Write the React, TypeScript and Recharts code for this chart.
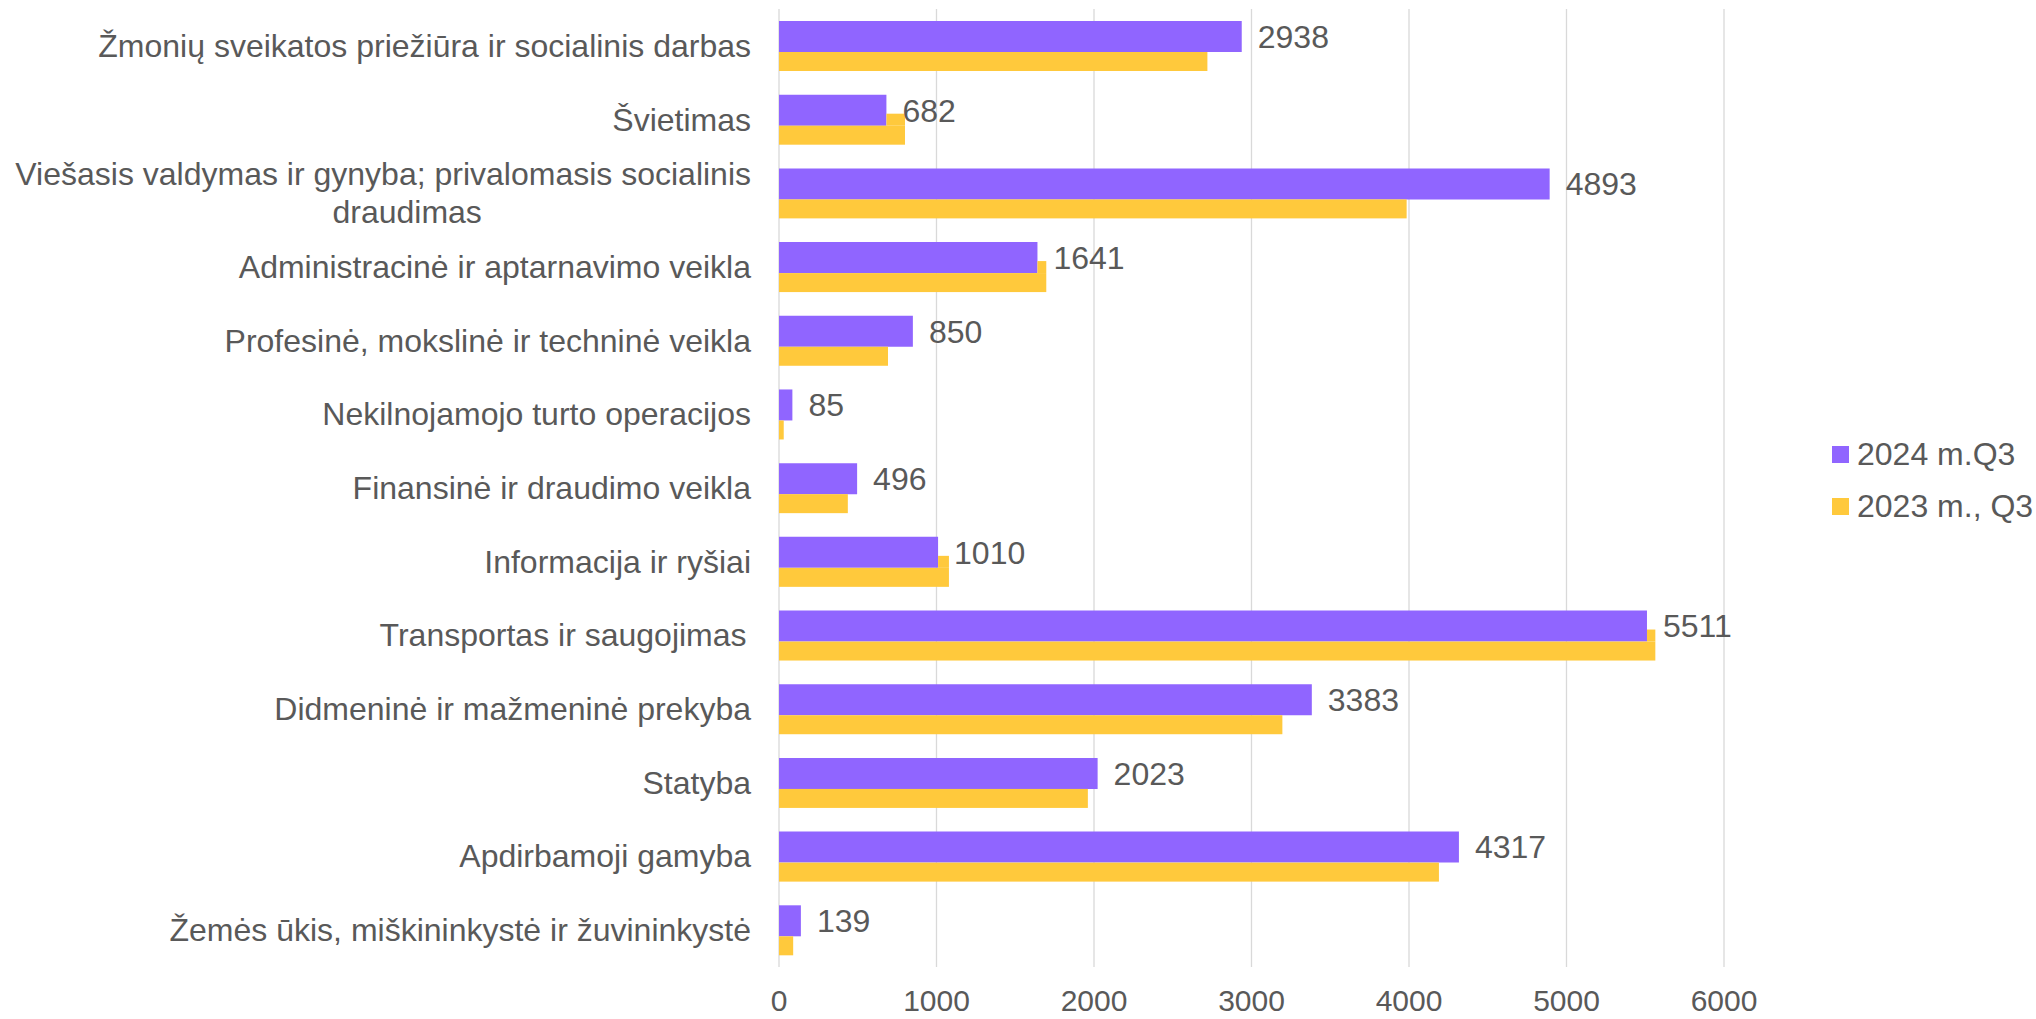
import { BarChart, Bar, XAxis, YAxis, CartesianGrid, LabelList, Legend } from "recharts";

const categories = [
  "Žmonių sveikatos priežiūra ir socialinis darbas",
  "Švietimas",
  "Viešasis valdymas ir gynyba; privalomasis socialinis\ndraudimas",
  "Administracinė ir aptarnavimo veikla",
  "Profesinė, mokslinė ir techninė veikla",
  "Nekilnojamojo turto operacijos",
  "Finansinė ir draudimo veikla",
  "Informacija ir ryšiai",
  "Transportas ir saugojimas ",
  "Didmeninė ir mažmeninė prekyba",
  "Statyba",
  "Apdirbamoji gamyba",
  "Žemės ūkis, miškininkystė ir žuvininkystė",
];

const values2024 = [2938, 682, 4893, 1641, 850, 85, 496, 1010, 5511, 3383, 2023, 4317, 139];
const values2023 = [2720, 800, 3985, 1697, 692, 30, 437, 1079, 5564, 3196, 1961, 4190, 90];

const seriesNames = ["2024 m.Q3", "2023 m., Q3"];
const xTicks = [0, 1000, 2000, 3000, 4000, 5000, 6000];

const data = categories.map((name, i) => ({
  name,
  y2024: values2024[i],
  y2023: values2023[i],
}));

const PURPLE = "#9065FF";
const YELLOW = "#FFC93C";
const TEXT = "#595959";
const FONT = "'Liberation Sans', Arial, sans-serif";
const BAR_SIZE = 31;
const BAR_GAP = -12;

let ctx: CanvasRenderingContext2D | null = null;
function textWidth(s: string, size: number) {
  if (!ctx) ctx = document.createElement("canvas").getContext("2d");
  if (!ctx) return s.length * size * 0.5;
  ctx.font = `${size}px ${FONT}`;
  return ctx.measureText(s).width;
}

function CategoryTick(props: any) {
  const { x, y, payload } = props;
  const lines = String(payload.value).split("\n");
  const size = 32;
  const lh = 38;
  const maxW = Math.max(...lines.map((l) => textWidth(l, size)));
  return (
    <g>
      {lines.map((l, i) => (
        <text
          key={i}
          x={x - maxW / 2 + (i > 0 ? 24 : 0)}
          y={y + (i - (lines.length - 1) / 2) * lh}
          textAnchor="middle"
          dominantBaseline="central"
          fill={TEXT}
          fontSize={size}
          fontFamily={FONT}
        >
          {l}
        </text>
      ))}
    </g>
  );
}

// yellow bar sits partly under the purple one, so leave out the covered corner
function YellowBar(props: any) {
  const { x, y, width, height, fill, payload } = props;
  if (!width || width <= 0) return null;
  const overlap = -BAR_GAP;
  const cover = Math.min((width * payload.y2024) / payload.y2023, width);
  return (
    <g>
      <rect x={x} y={y + overlap} width={width} height={height - overlap} fill={fill} />
      {width > cover && (
        <rect x={x + cover} y={y} width={width - cover} height={overlap} fill={fill} />
      )}
    </g>
  );
}

function LegendBox() {
  const colors = [PURPLE, YELLOW];
  return (
    <div style={{ fontFamily: FONT, fontSize: 32, color: TEXT }}>
      {seriesNames.map((n, i) => (
        <div key={n} style={{ display: "flex", alignItems: "center", height: 52, whiteSpace: "nowrap" }}>
          <span style={{ width: 17, height: 17, background: colors[i], marginRight: 8, display: "inline-block" }} />
          <span>{n}</span>
        </div>
      ))}
    </div>
  );
}

export default function App() {
  return (
    <div style={{ position: "absolute", left: 0, top: 0, background: "#fff" }}>
      <BarChart
        width={2036}
        height={1019}
        data={data}
        layout="vertical"
        margin={{ top: 9, right: 312, bottom: 22, left: 0 }}
        barSize={BAR_SIZE}
        barGap={BAR_GAP}
      >
        <CartesianGrid horizontal={false} stroke="#D9D9D9" strokeWidth={1.3} />
        <XAxis
          type="number"
          domain={[0, 6000]}
          ticks={xTicks}
          axisLine={false}
          tickLine={false}
          tickSize={0}
          tickMargin={23}
          tick={{ fill: TEXT, fontSize: 30, fontFamily: FONT }}
        />
        <YAxis
          type="category"
          dataKey="name"
          width={779}
          axisLine={false}
          tickLine={false}
          tickSize={0}
          tickMargin={28}
          interval={0}
          tick={<CategoryTick />}
        />
        <Legend
          layout="horizontal"
          align="center"
          verticalAlign="middle"
          content={<LegendBox />}
          wrapperStyle={{ left: 1832, top: 428, width: "auto" }}
        />
        <Bar dataKey="y2024" name={seriesNames[0]} fill={PURPLE} isAnimationActive={false}>
          <LabelList
            dataKey="y2024"
            position="right"
            offset={16}
            fill={TEXT}
            fontSize={32}
            fontFamily={FONT}
          />
        </Bar>
        <Bar
          dataKey="y2023"
          name={seriesNames[1]}
          fill={YELLOW}
          shape={<YellowBar />}
          isAnimationActive={false}
        />
      </BarChart>
    </div>
  );
}
